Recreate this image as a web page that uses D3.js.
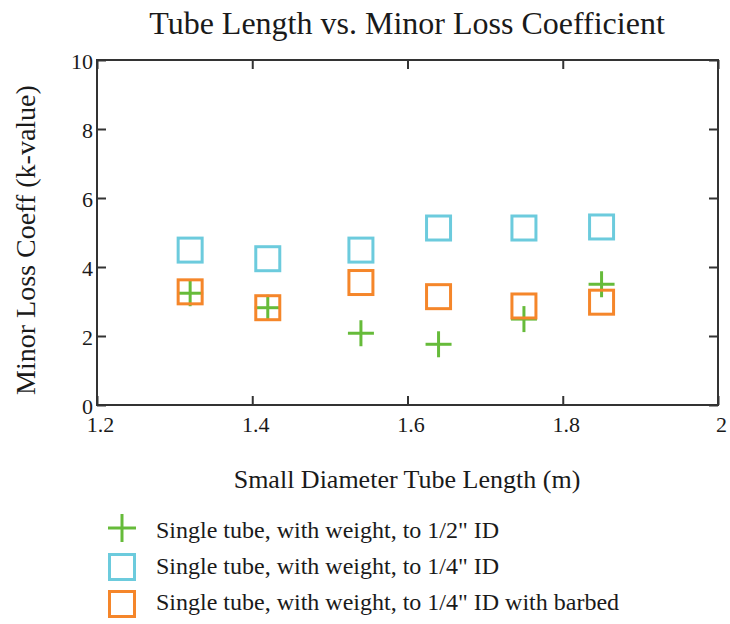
<!DOCTYPE html>
<html>
<head>
<meta charset="utf-8">
<script src="https://cdn.jsdelivr.net/npm/d3@7"></script>
<style>
  html, body { margin: 0; padding: 0; background: #fff; }
  svg { display: block; }
  text { font-family: "Liberation Serif", "Times New Roman", serif; fill: #1a1a1a; }
</style>
</head>
<body>
<svg id="chart" width="730" height="624"></svg>
<script>
// Tube lengths (m) at which the minor loss coefficient was measured
const tubeLengths = [1.32, 1.42, 1.54, 1.64, 1.75, 1.85];

// k-values for each configuration
const halfInchID = [3.24, 2.82, 2.08, 1.76, 2.49, 3.50];
const quarterInchID = [4.49, 4.24, 4.49, 5.13, 5.13, 5.16];
const quarterInchBarbed = [3.28, 2.82, 3.55, 3.14, 2.87, 2.98];

const xTicks = [1.2, 1.4, 1.6, 1.8, 2];
const yTicks = [0, 2, 4, 6, 8, 10];

const seriesNames = [
  "Single tube, with weight, to 1/2\" ID",
  "Single tube, with weight, to 1/4\" ID",
  "Single tube, with weight, to 1/4\" ID with barbed"
];
const seriesColors = ["#66bb3a", "#6ccbdd", "#f5862a"];
const seriesMarkers = ["plus", "square", "square"];
const seriesValues = [halfInchID, quarterInchID, quarterInchBarbed];

const svg = d3.select("#chart");
const plot = { left: 97, right: 718, top: 60, bottom: 405 };

const x = d3.scaleLinear().domain([1.2, 2]).range([plot.left, plot.right]);
const y = d3.scaleLinear().domain([0, 10]).range([plot.bottom, plot.top]);

const frameColor = "#333";
const tickLen = 9;

// Frame
svg.append("rect")
  .attr("x", plot.left).attr("y", plot.top)
  .attr("width", plot.right - plot.left).attr("height", plot.bottom - plot.top)
  .attr("fill", "none").attr("stroke", frameColor).attr("stroke-width", 2);

// Axes with inward ticks
const bottomAxis = d3.axisBottom(x).tickValues(xTicks).tickSize(-tickLen)
  .tickFormat(d3.format("~g")).tickPadding(11);
const leftAxis = d3.axisLeft(y).tickValues(yTicks).tickSize(-tickLen)
  .tickFormat(d3.format("d")).tickPadding(4);
const topAxis = d3.axisTop(x).tickValues(xTicks).tickSize(-tickLen).tickFormat("");
const rightAxis = d3.axisRight(y).tickValues(yTicks).tickSize(-tickLen).tickFormat("");

function styleAxis(g) {
  g.select(".domain").remove();
  g.selectAll(".tick line").attr("stroke", frameColor).attr("stroke-width", 2);
  g.selectAll(".tick text")
    .style("font-family", "'Liberation Serif', serif")
    .style("font-size", "22px")
    .attr("fill", "#1a1a1a");
}

svg.append("g").attr("transform", `translate(0,${plot.bottom})`).call(bottomAxis).call(styleAxis)
  .selectAll(".tick text").attr("dx", 3);
svg.append("g").attr("transform", `translate(${plot.left},0)`).call(leftAxis).call(styleAxis)
  .selectAll(".tick text").attr("dy", "0.38em");
svg.append("g").attr("transform", `translate(0,${plot.top})`).call(topAxis).call(styleAxis);
svg.append("g").attr("transform", `translate(${plot.right},0)`).call(rightAxis).call(styleAxis);

// Marker drawing
function drawMarker(g, type, color, size) {
  const h = size / 2;
  if (type === "plus") {
    g.append("line").attr("x1", -h).attr("x2", h).attr("y1", 0).attr("y2", 0)
      .attr("stroke", color).attr("stroke-width", 3);
    g.append("line").attr("x1", 0).attr("x2", 0).attr("y1", -h).attr("y2", h)
      .attr("stroke", color).attr("stroke-width", 3);
  } else {
    g.append("rect").attr("x", -h + 1.5).attr("y", -h + 1.5)
      .attr("width", size - 3).attr("height", size - 3)
      .attr("fill", "none").attr("stroke", color).attr("stroke-width", 3);
  }
}

// Series in legend order, later series drawn over earlier ones
seriesValues.forEach((vals, si) => {
  const g = svg.append("g");
  vals.forEach((v, i) => {
    const m = g.append("g").attr("transform", `translate(${x(tubeLengths[i])},${y(v)})`);
    drawMarker(m, seriesMarkers[si], seriesColors[si], si === 0 ? 26 : 27);
  });
});

// Title and axis titles
svg.append("text").attr("x", 407).attr("y", 34).attr("text-anchor", "middle")
  .style("font-size", "32px").text("Tube Length vs. Minor Loss Coefficient");
svg.append("text").attr("x", 407).attr("y", 488).attr("text-anchor", "middle")
  .style("font-size", "26px").text("Small Diameter Tube Length (m)");
svg.append("text").attr("transform", "translate(35,240) rotate(-90)").attr("text-anchor", "middle")
  .style("font-size", "28px").text("Minor Loss Coeff (k-value)");

// Legend
const legendRows = [528, 567, 604];
const legendBaselines = [538, 574, 610];
seriesNames.forEach((name, i) => {
  const m = svg.append("g").attr("transform", `translate(122,${legendRows[i]})`);
  drawMarker(m, seriesMarkers[i], seriesColors[i], 28);
  svg.append("text").attr("x", 156).attr("y", legendBaselines[i])
    .style("font-size", "24px").text(name);
});
</script>
</body>
</html>
